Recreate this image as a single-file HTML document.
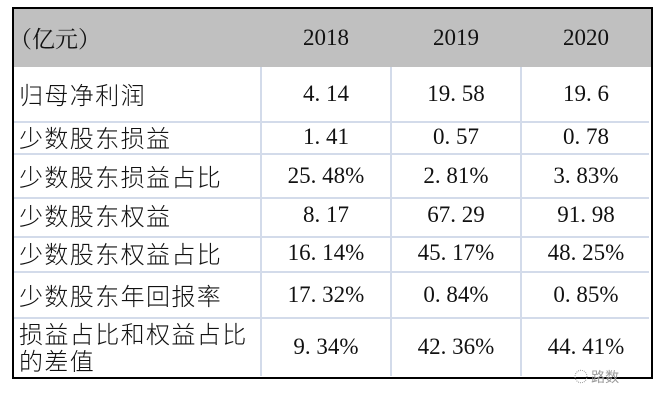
<!DOCTYPE html>
<html><head><meta charset="utf-8"><style>
body{margin:0;width:660px;height:404px;background:#fff;position:relative;overflow:hidden;font-family:"Liberation Serif","Noto Serif CJK SC",serif;font-size:23px;color:#111}
.hd{position:absolute;left:13px;top:8px;width:638px;height:59px;background:#c0c0c0}
.box{position:absolute;left:12px;top:7px;width:637px;height:368px;border:2px solid #000}
.h{position:absolute;height:2px;background:#d3dbea;left:14px;width:635px}
.v{position:absolute;width:2px;background:#d3dbea;top:67px;height:309px}
.t{position:absolute;line-height:26px;white-space:nowrap}
.l{font-family:"Noto Sans CJK SC",sans-serif;font-size:24px;letter-spacing:1.4px;font-weight:300}
.c{text-align:center;width:130px}
</style></head><body>
<div class="hd"></div>
<div class="h" style="top:121px"></div>
<div class="h" style="top:153px"></div>
<div class="h" style="top:197px"></div>
<div class="h" style="top:236px"></div>
<div class="h" style="top:271px"></div>
<div class="h" style="top:317px"></div>
<div class="v" style="left:260px"></div>
<div class="v" style="left:390px"></div>
<div class="v" style="left:520px"></div>
<div class="box"></div>

<div class="t" style="left:9px;top:25px;font-family:'Noto Serif CJK SC',serif">（亿元）</div>
<div class="t c" style="left:261px;top:25px">2018</div>
<div class="t c" style="left:391px;top:25px">2019</div>
<div class="t c" style="left:521px;top:25px">2020</div>

<div class="t l" style="left:19px;top:81px">归母净利润</div>
<div class="t c" style="left:261px;top:81px">4. 14</div>
<div class="t c" style="left:391px;top:81px">19. 58</div>
<div class="t c" style="left:521px;top:81px">19. 6</div>

<div class="t l" style="left:19px;top:124px">少数股东损益</div>
<div class="t c" style="left:261px;top:124px">1. 41</div>
<div class="t c" style="left:391px;top:124px">0. 57</div>
<div class="t c" style="left:521px;top:124px">0. 78</div>

<div class="t l" style="left:19px;top:163px">少数股东损益占比</div>
<div class="t c" style="left:261px;top:163px">25. 48%</div>
<div class="t c" style="left:391px;top:163px">2. 81%</div>
<div class="t c" style="left:521px;top:163px">3. 83%</div>

<div class="t l" style="left:19px;top:202px">少数股东权益</div>
<div class="t c" style="left:261px;top:202px">8. 17</div>
<div class="t c" style="left:391px;top:202px">67. 29</div>
<div class="t c" style="left:521px;top:202px">91. 98</div>

<div class="t l" style="left:19px;top:240px">少数股东权益占比</div>
<div class="t c" style="left:261px;top:240px">16. 14%</div>
<div class="t c" style="left:391px;top:240px">45. 17%</div>
<div class="t c" style="left:521px;top:240px">48. 25%</div>

<div class="t l" style="left:19px;top:282px">少数股东年回报率</div>
<div class="t c" style="left:261px;top:282px">17. 32%</div>
<div class="t c" style="left:391px;top:282px">0. 84%</div>
<div class="t c" style="left:521px;top:282px">0. 85%</div>

<div class="t l" style="left:19px;top:320px">损益占比和权益占比</div>
<div class="t l" style="left:19px;top:347px">的差值</div>
<div class="t c" style="left:261px;top:334px">9. 34%</div>
<div class="t c" style="left:391px;top:334px">42. 36%</div>
<div class="t c" style="left:521px;top:334px">44. 41%</div>

<div class="t" style="left:574px;top:364px;font-size:14px;color:#999;font-family:'Noto Sans CJK SC',sans-serif">◌ 路数</div>
</body></html>
